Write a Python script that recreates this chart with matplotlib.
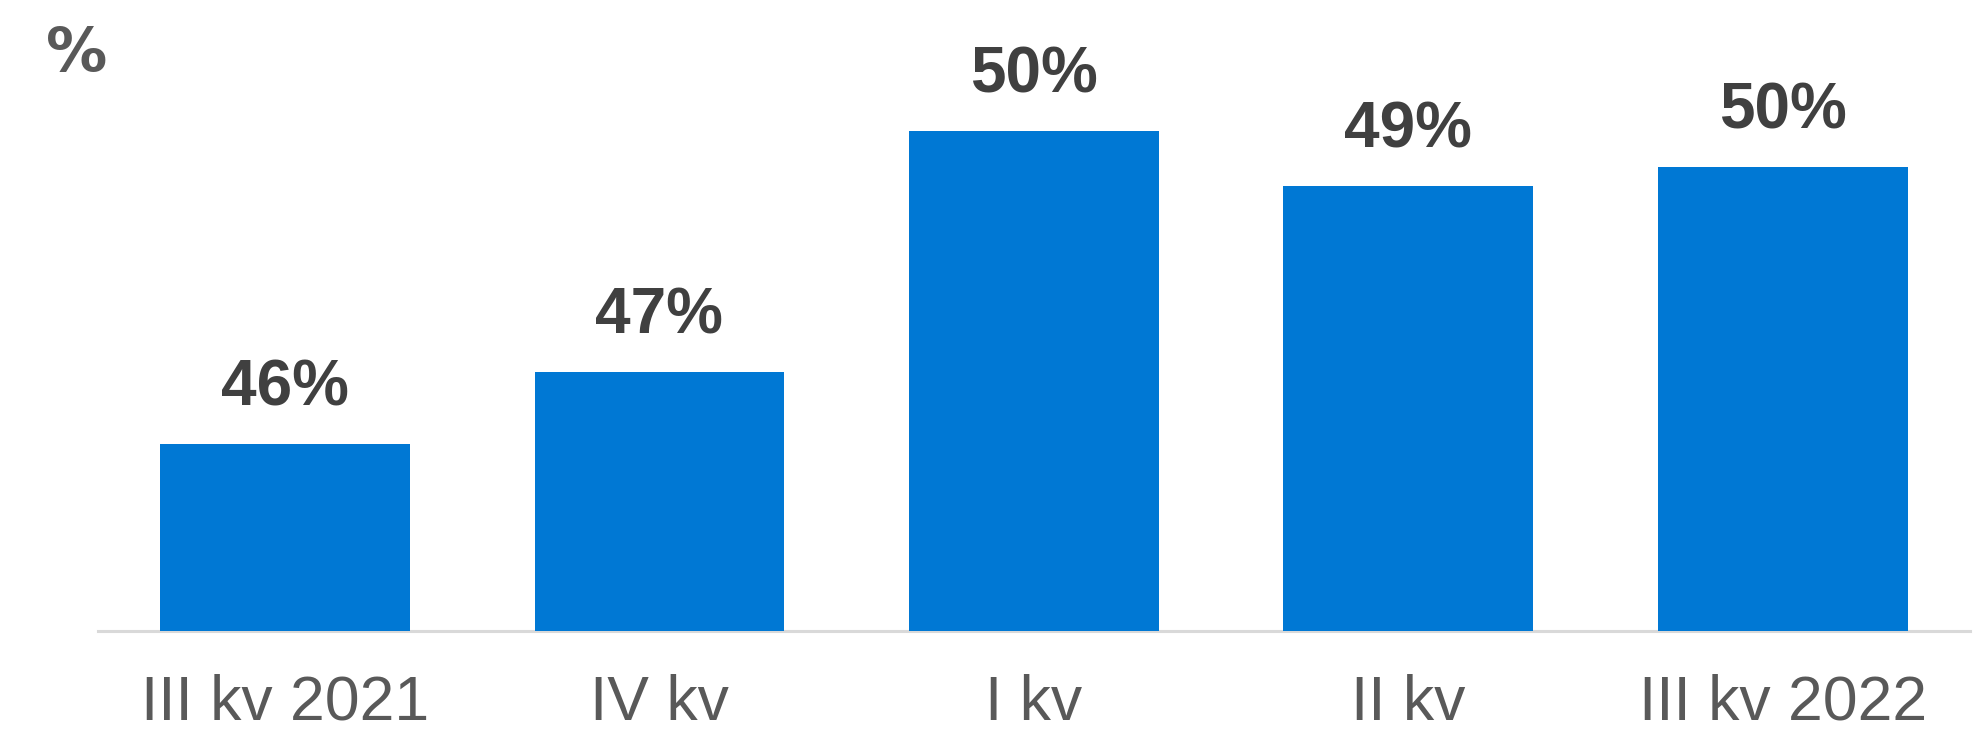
import matplotlib
matplotlib.use("Agg")
import matplotlib.pyplot as plt
from matplotlib.transforms import blended_transform_factory

quarters = ["III kv 2021", "IV kv", "I kv", "II kv", "III kv 2022"]
share = [45.9, 46.9, 50.25, 49.48, 49.75]

plt.rcParams["font.family"] = ["Liberation Sans", "DejaVu Sans"]

W, H = 1978, 733
fig = plt.figure(figsize=(W / 100, H / 100), dpi=100)
ax = fig.add_axes([97.7 / W, (H - 631) / H, (1970 - 97.7) / W, 631 / H])

x = range(len(quarters))
bars = ax.bar(x, share, width=0.667, color="#0078d4", zorder=3)

ax.set_xlim(-0.5, len(quarters) - 0.5)
ax.set_ylim(43.3, 43.3 + 631 / 72)

# value labels above bars
for b, v in zip(bars, share):
    ax.annotate(f"{v:.0f}%", (b.get_x() + b.get_width() / 2, v),
                xytext=(0, 27.4), textcoords="offset points",
                ha="center", va="baseline", fontsize=46,
                fontweight="bold", color="#404040")

# category labels under the baseline
trans = blended_transform_factory(ax.transData, fig.transFigure)
for i, q in enumerate(quarters):
    ax.text(i, (H - 720) / H, q, transform=trans, ha="center", va="baseline",
            fontsize=45, color="#595959")

ax.set_xticks([])
ax.set_yticks([])
for s in ["top", "left", "right"]:
    ax.spines[s].set_visible(False)
ax.spines["bottom"].set_color("#d9d9d9")
ax.spines["bottom"].set_linewidth(2.2)
ax.spines["bottom"].set_zorder(2)

fig.text(46 / W, (H - 71) / H, "%", fontsize=44, fontweight="bold",
         color="#595959", family="DejaVu Sans", ha="left", va="baseline")

fig.savefig("out.png", dpi=100)
